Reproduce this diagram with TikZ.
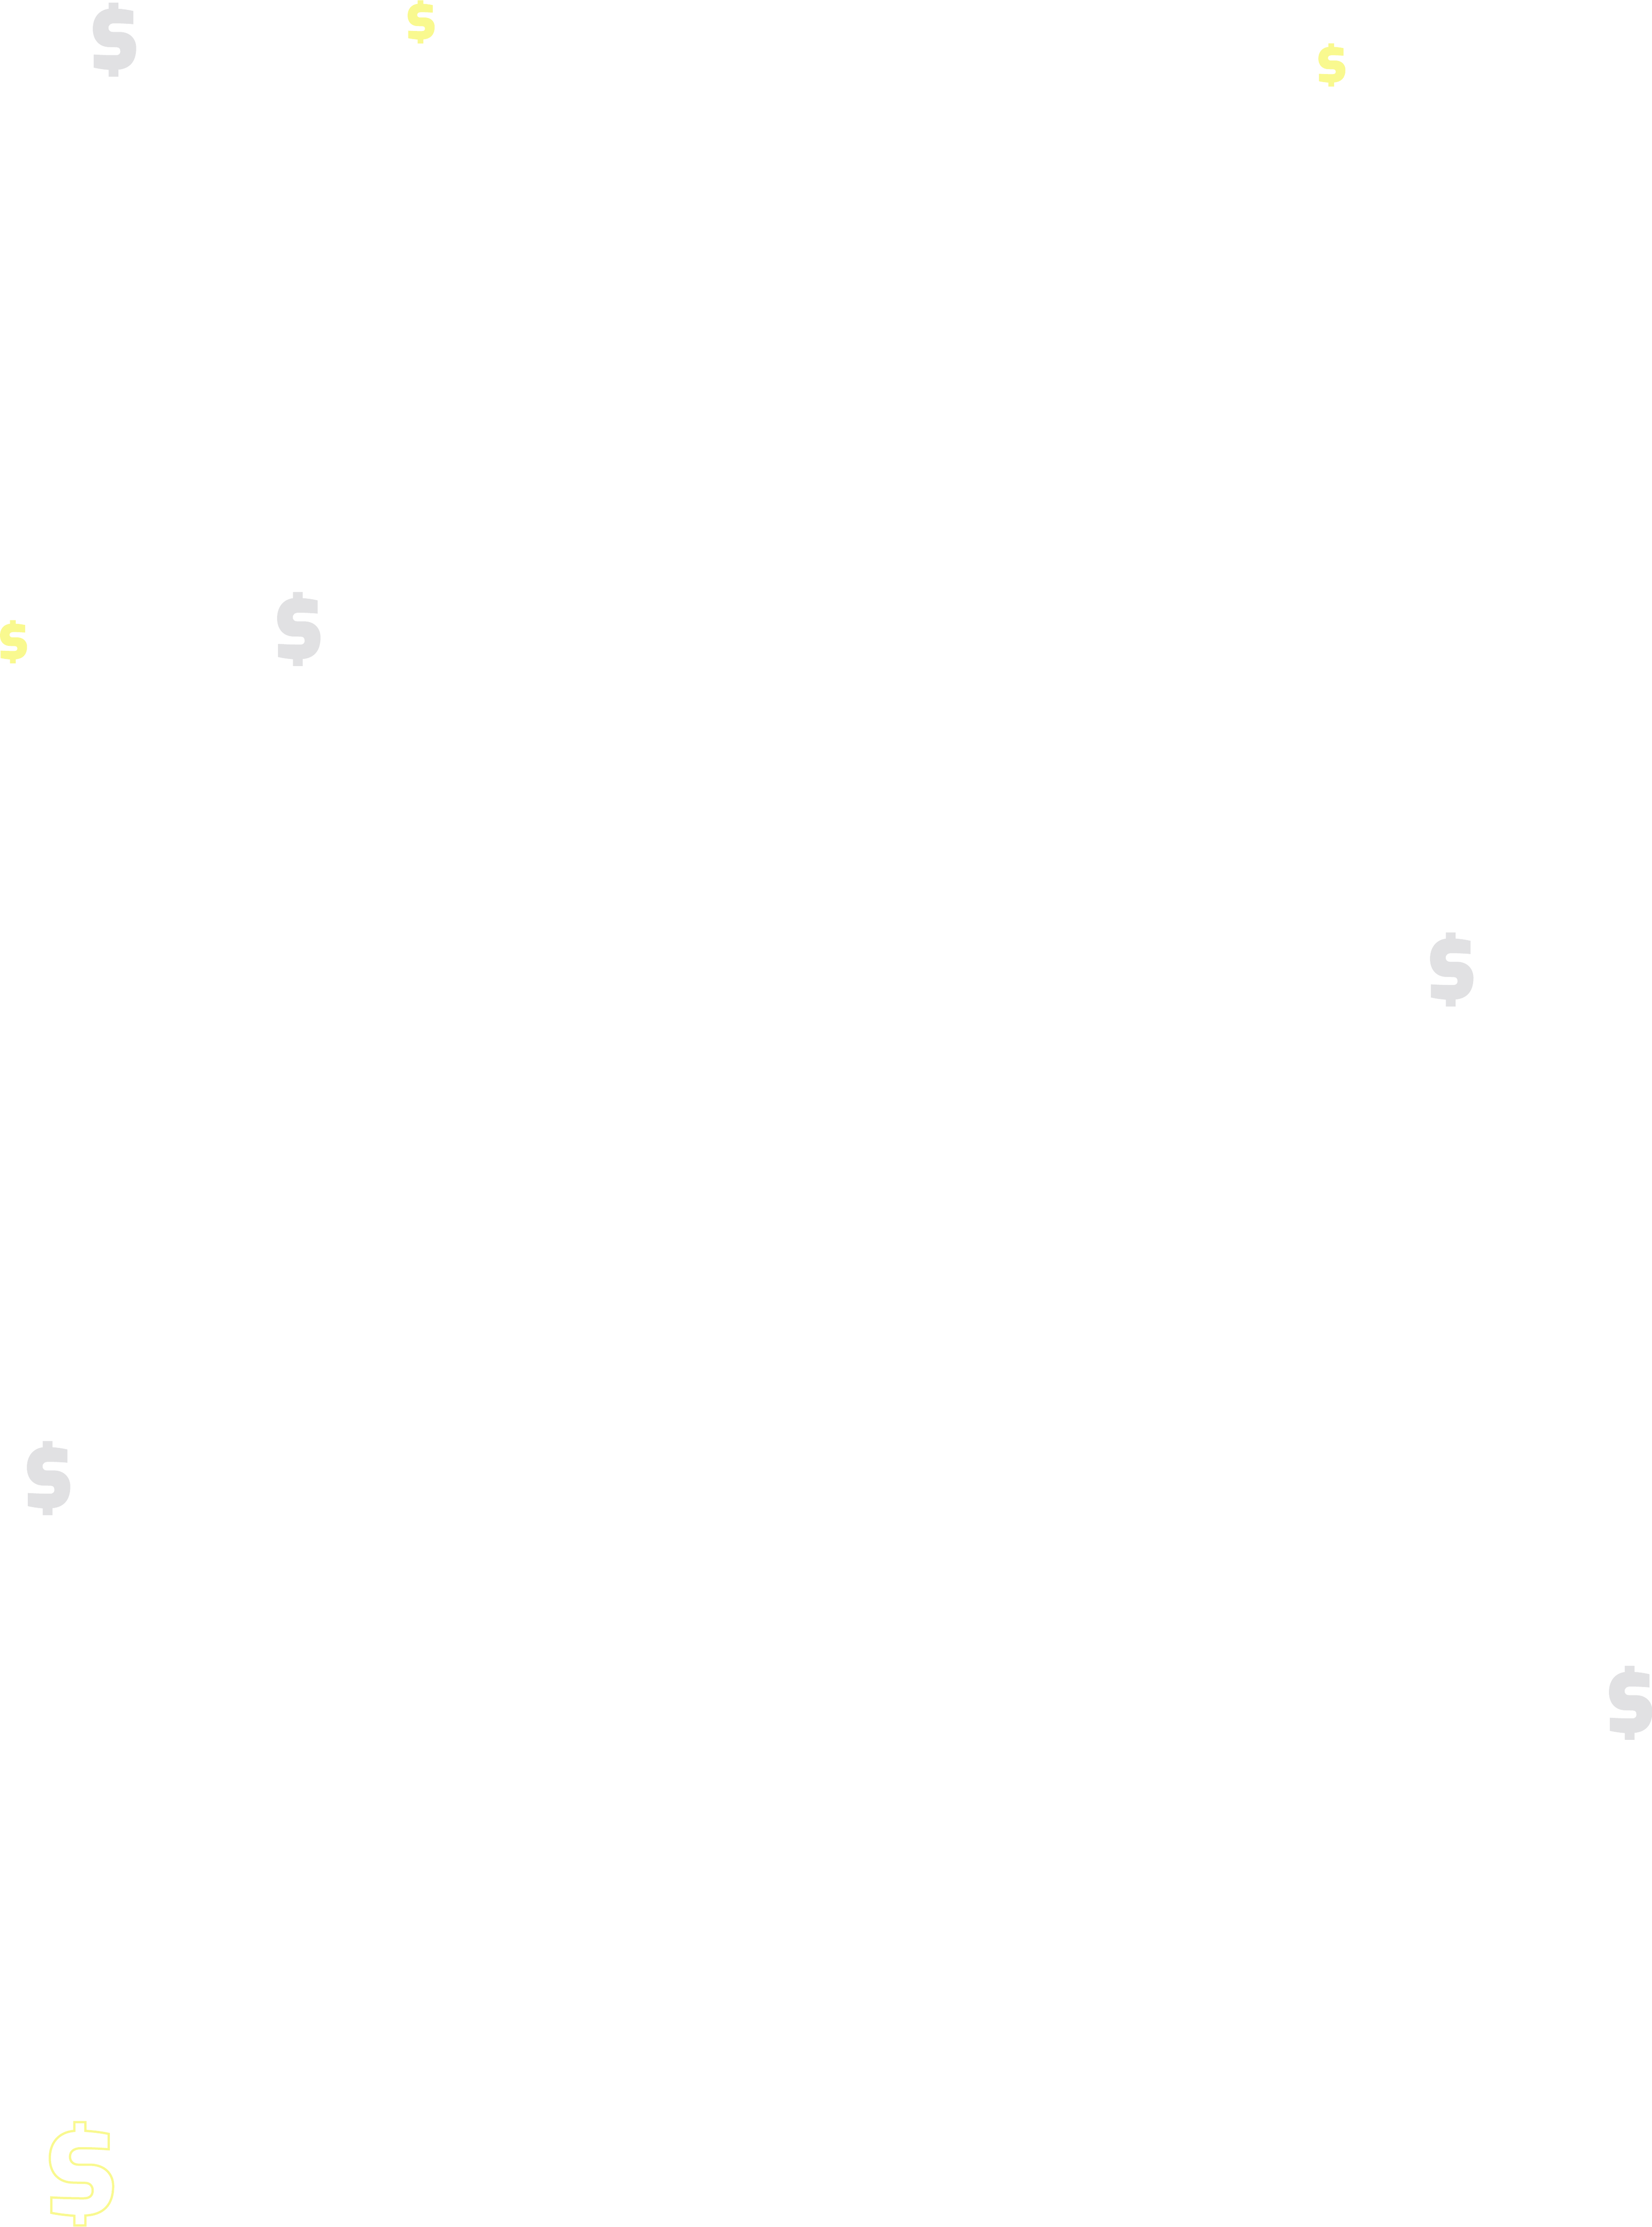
\documentclass[tikz,border=0pt]{standalone}
\usepackage{xcolor}
\definecolor{signgray}{HTML}{E1E1E3}
\definecolor{signyellow}{HTML}{F9F98F}
\tikzset{
    pics/dollar/.style={code={
        \path[pic actions,shift={(-0.93,-0.10)}] (2.58,7.02) -- (3.31,7.02) -- (3.31,6.43)
            .. controls (3.85,6.40) and (4.40,6.33) .. (4.87,6.23) -- (4.87,5.20)
            .. controls (4.20,5.25) and (3.60,5.27) .. (3.00,5.27)
            .. controls (2.55,5.27) and (2.28,5.05) .. (2.28,4.70)
            .. controls (2.28,4.35) and (2.55,4.17) .. (2.85,4.17) -- (3.60,4.17)
            .. controls (4.60,4.17) and (5.17,3.55) .. (5.17,2.75)
            .. controls (5.17,1.45) and (4.50,0.83) .. (3.31,0.77) -- (3.31,0.10) -- (2.58,0.10) -- (2.58,0.75)
            .. controls (2.05,0.79) and (1.50,0.85) .. (1.03,0.95) -- (1.03,1.98)
            .. controls (1.70,1.94) and (2.50,1.92) .. (3.20,1.92)
            .. controls (3.60,1.92) and (3.80,2.10) .. (3.80,2.45)
            .. controls (3.80,2.75) and (3.60,2.95) .. (3.30,2.95) -- (2.50,2.97)
            .. controls (1.60,2.97) and (0.93,3.55) .. (0.93,4.60)
            .. controls (0.93,5.60) and (1.50,6.35) .. (2.58,6.43) -- cycle;
    }},
    graysign/.style={fill=signgray,draw=signgray,line width=0.06cm,shift={(0.03,0.03)},xscale=0.214,yscale=0.23},
    yellowsign/.style={fill=signyellow,draw=signyellow,line width=0.03cm,shift={(0.015,0.015)},scale=0.135},
    outlinesign/.style={draw=signyellow,fill=none,line width=0.05cm,scale=0.3333}
}

\begin{document}
\begin{tikzpicture}
    % Page
    \useasboundingbox (0,0) rectangle (36.84,49.65);
    \clip (0,0) rectangle (36.84,49.65);
    % Gray signs (lower left corners)
    \foreach \sx/\sy in {2.07/47.94, 6.18/34.80, 31.89/27.21, 0.60/15.87, 35.88/10.86}
        \pic[graysign] at (\sx,\sy) {dollar};
    % Yellow signs
    \foreach \sx/\sy in {9.09/48.68, 29.40/47.72, 0.00/34.86}
        \pic[yellowsign] at (\sx,\sy) {dollar};
    % Outlined sign
    \pic[outlinesign] at (1.11,0.033) {dollar};
\end{tikzpicture}
\end{document}
